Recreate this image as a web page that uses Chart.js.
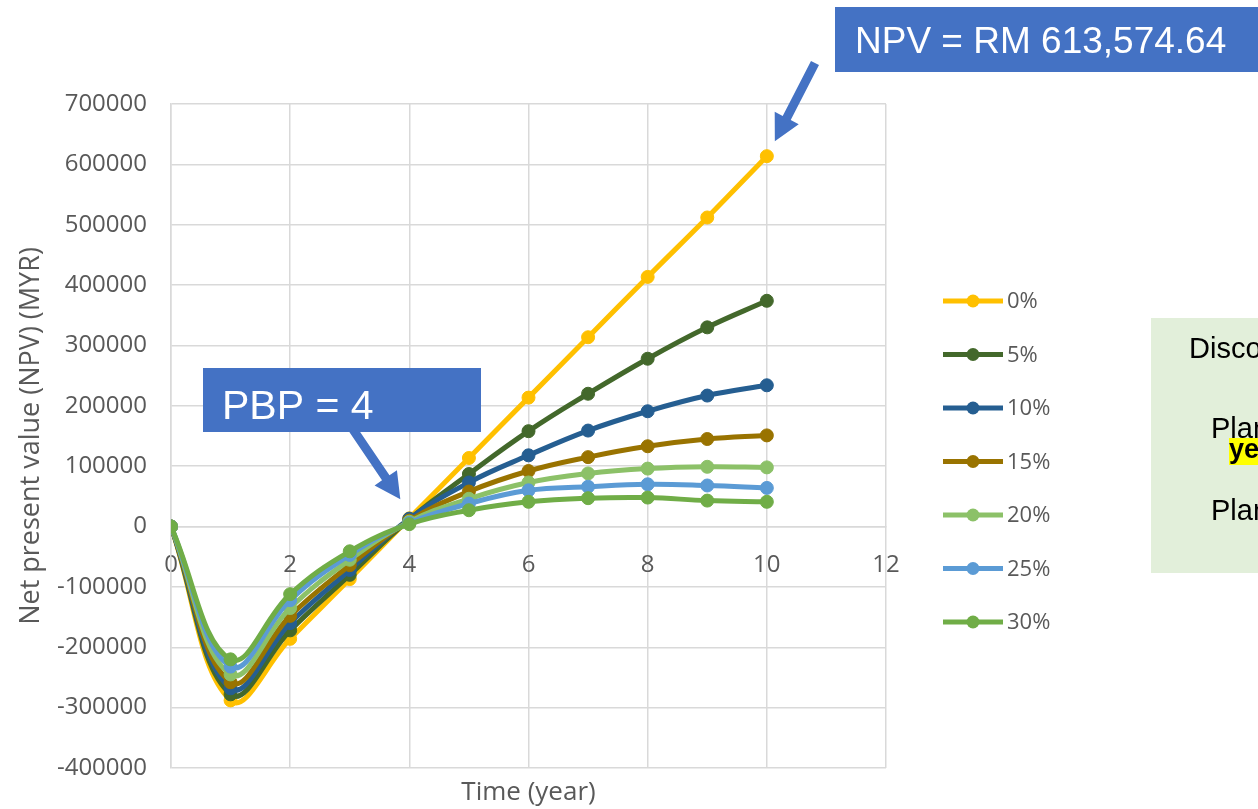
<!DOCTYPE html>
<html>
<head>
<meta charset="utf-8">
<script src="https://cdn.jsdelivr.net/npm/chart.js@4"></script>
<style>
  html, body { margin: 0; padding: 0; background: #ffffff; overflow: hidden; }
  #wrap { position: relative; width: 1258px; height: 809px; }
</style>
</head>
<body>
<div id="wrap"><canvas id="npvChart" width="1258" height="809"></canvas></div>
<script>
// Cumulative net present value of the plant by year, for each discount rate
const years = [0, 1, 2, 3, 4, 5, 6, 7, 8, 9, 10];
const rateLabels = ['0%', '5%', '10%', '15%', '20%', '25%', '30%'];

const npvRate0  = [0, -288000, -186000, -87000, 13575, 113575, 213575, 313575, 413575, 512000, 613574.64];
const npvRate5  = [0, -278000, -172000, -80000, 12000, 87000, 158000, 220000, 278000, 330000, 374000];
const npvRate10 = [0, -268000, -160000, -72000, 13000, 73000, 118000, 159000, 191000, 217000, 234000];
const npvRate15 = [0, -258000, -148000, -64000, 10000, 58000, 92000, 115000, 133000, 145000, 151000];
const npvRate20 = [0, -245000, -135000, -55000, 8000, 46000, 73000, 88000, 96000, 99000, 98000];
const npvRate25 = [0, -232000, -122000, -47000, 6000, 38000, 60000, 66000, 70000, 68000, 64000];
const npvRate30 = [0, -220000, -112000, -41000, 4000, 27000, 41000, 47000, 48000, 43000, 41000];

const xTickValues = [0, 2, 4, 6, 8, 10, 12];
const yTickValues = [-400000, -300000, -200000, -100000, 0, 100000, 200000, 300000, 400000, 500000, 600000, 700000];

const paybackYear = 4;
const finalYear = 10;

const seriesValues = [npvRate0, npvRate5, npvRate10, npvRate15, npvRate20, npvRate25, npvRate30];
const seriesColors = ['#FFC000', '#43682B', '#255E91', '#997300', '#8CC168', '#5B9BD5', '#70AD47'];

const AXIS_GREY = '#595959';
const GRID_GREY = '#d9d9d9';
const CALLOUT_BLUE = '#4472C4';

const datasets = seriesValues.map((vals, i) => ({
  label: rateLabels[i],
  data: years.map((yr, j) => ({ x: yr, y: vals[j] })),
  borderColor: seriesColors[i],
  backgroundColor: seriesColors[i],
  pointBackgroundColor: seriesColors[i],
  pointBorderColor: seriesColors[i],
  borderWidth: 5,
  pointRadius: 6.5,
  pointBorderWidth: 1,
  tension: 0.4,
  order: seriesValues.length - i
}));

function drawArrow(ctx, x0, y0, x1, y1, shaft, headW, headL) {
  const dx = x1 - x0, dy = y1 - y0;
  const len = Math.hypot(dx, dy);
  const ux = dx / len, uy = dy / len;
  const nx = -uy, ny = ux;
  const bx = x1 - ux * headL, by = y1 - uy * headL;
  ctx.beginPath();
  ctx.moveTo(x0 + nx * shaft / 2, y0 + ny * shaft / 2);
  ctx.lineTo(bx + nx * shaft / 2, by + ny * shaft / 2);
  ctx.lineTo(bx + nx * headW / 2, by + ny * headW / 2);
  ctx.lineTo(x1, y1);
  ctx.lineTo(bx - nx * headW / 2, by - ny * headW / 2);
  ctx.lineTo(bx - nx * shaft / 2, by - ny * shaft / 2);
  ctx.lineTo(x0 - nx * shaft / 2, y0 - ny * shaft / 2);
  ctx.closePath();
  ctx.fill();
}

// Legend, axis caption and callouts drawn on top of the plot
const decorations = {
  id: 'decorations',
  afterDraw(chart) {
    const ctx = chart.ctx;
    const area = chart.chartArea;
    const xs = chart.scales.x, ys = chart.scales.y;
    ctx.save();

    // x axis caption
    ctx.fillStyle = AXIS_GREY;
    ctx.font = '26px "Open Sans"';
    ctx.textAlign = 'center';
    ctx.textBaseline = 'middle';
    ctx.fillText('Time (year)', (area.left + area.right) / 2, 793);

    // legend
    ctx.textAlign = 'left';
    ctx.font = '22px "Open Sans"';
    rateLabels.forEach((lab, i) => {
      const y = 301 + i * 53.5;
      ctx.strokeStyle = seriesColors[i];
      ctx.lineWidth = 5;
      ctx.beginPath();
      ctx.moveTo(943, y);
      ctx.lineTo(1003, y);
      ctx.stroke();
      ctx.fillStyle = seriesColors[i];
      ctx.beginPath();
      ctx.arc(973, y, 6.5, 0, Math.PI * 2);
      ctx.fill();
      ctx.fillStyle = AXIS_GREY;
      ctx.fillText(lab, 1007, y + 1);
    });

    // NPV callout
    const finalNpv = npvRate0[finalYear];
    const npvText = 'NPV = RM ' + finalNpv.toLocaleString('en-US', { minimumFractionDigits: 2, maximumFractionDigits: 2 });
    const px = xs.getPixelForValue(finalYear), py = ys.getPixelForValue(finalNpv);
    ctx.fillStyle = CALLOUT_BLUE;
    drawArrow(ctx, 815, 63, px + 8, py - 15, 9, 27, 26);
    ctx.fillRect(835, 7, 440, 65);
    ctx.fillStyle = '#ffffff';
    ctx.font = '37px "Liberation Sans"';
    ctx.textBaseline = 'alphabetic';
    ctx.fillText(npvText, 855, 53);

    // payback period callout
    const bx = xs.getPixelForValue(paybackYear), by = ys.getPixelForValue(npvRate0[paybackYear]);
    ctx.fillStyle = CALLOUT_BLUE;
    drawArrow(ctx, 350, 425, bx - 9, by - 19, 9, 27, 26);
    ctx.fillRect(203, 368, 278, 64);
    ctx.fillStyle = '#ffffff';
    ctx.font = '41px "Liberation Sans"';
    ctx.fillText('PBP = ' + paybackYear, 222, 419);

    // side note panel
    ctx.fillStyle = '#E2EFDA';
    ctx.fillRect(1151, 318, 120, 255);
    ctx.fillStyle = '#000000';
    ctx.font = '29px "Liberation Sans"';
    ctx.fillText('Discount rate', 1189, 358);
    ctx.fillText('Plant', 1211, 438);
    ctx.fillStyle = '#FFFF00';
    ctx.fillRect(1229, 438, 40, 27);
    ctx.fillStyle = '#000000';
    ctx.font = 'bold 27px "Liberation Sans"';
    ctx.fillText('years', 1229, 458);
    ctx.font = '29px "Liberation Sans"';
    ctx.fillText('Plant', 1211, 520);

    ctx.restore();
  }
};

new Chart(document.getElementById('npvChart'), {
  type: 'line',
  data: { datasets },
  plugins: [decorations],
  options: {
    responsive: false,
    animation: false,
    layout: { padding: { left: 0, top: 104, right: 372, bottom: 41 } },
    plugins: { legend: { display: false }, tooltip: { enabled: false } },
    scales: {
      x: {
        type: 'linear',
        position: { y: 0 },
        min: 0,
        max: 12,
        afterBuildTicks(scale) { scale.ticks = xTickValues.map(v => ({ value: v })); },
        afterFit(scale) { scale.height = 0; },
        grid: { color: GRID_GREY, lineWidth: 1.5, drawTicks: false },
        border: { color: GRID_GREY, width: 1.5 },
        ticks: { color: AXIS_GREY, font: { family: 'Open Sans', size: 24 }, padding: 24, maxRotation: 0 }
      },
      y: {
        type: 'linear',
        position: 'left',
        min: -400000,
        max: 700000,
        afterBuildTicks(scale) { scale.ticks = yTickValues.map(v => ({ value: v })); },
        afterFit(scale) { scale.width = 171; },
        grid: { color: GRID_GREY, lineWidth: 1.5, drawTicks: false },
        border: { color: GRID_GREY, width: 1.5 },
        ticks: { color: AXIS_GREY, font: { family: 'Open Sans', size: 24 }, padding: 24, callback: v => String(v) },
        title: {
          display: true,
          text: 'Net present value (NPV) (MYR)',
          color: AXIS_GREY,
          font: { family: 'Open Sans', size: 27 },
          padding: { top: 15, bottom: 0 }
        }
      }
    }
  }
});
</script>
</body>
</html>
